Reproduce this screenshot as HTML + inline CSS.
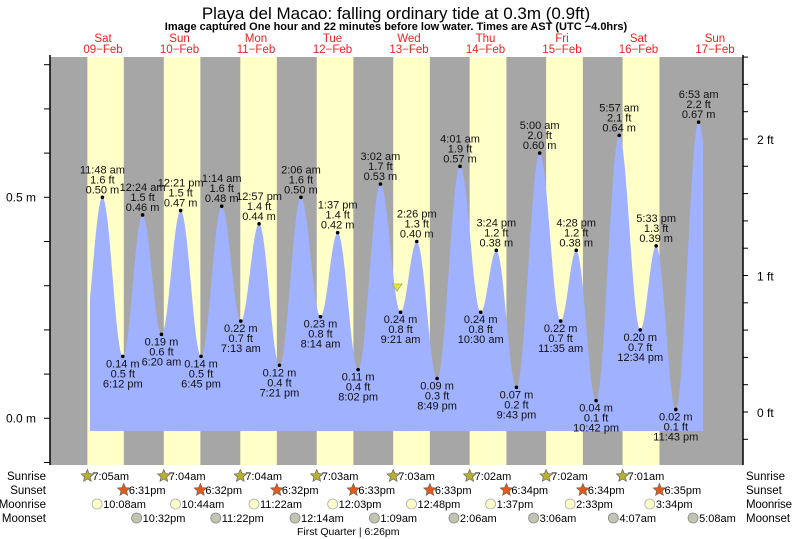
<!DOCTYPE html>
<html><head><meta charset="utf-8"><style>
html,body{margin:0;padding:0;background:#fff;}
svg{display:block;font-family:"Liberation Sans",Arial,sans-serif;}
</style></head><body>
<svg id="s" width="793" height="539" viewBox="0 0 793 539" xmlns="http://www.w3.org/2000/svg">
<text x="396" y="19" font-size="17" text-anchor="middle" fill="#000">Playa del Macao: falling  ordinary tide at 0.3m (0.9ft)</text>
<text x="396" y="30" font-size="11" font-weight="bold" text-anchor="middle" fill="#000">Image captured One hour and 22 minutes before low water. Times are AST (UTC −4.0hrs)</text>
<g id="g"></g>
</svg>
<script>
const NS="http://www.w3.org/2000/svg",g=document.getElementById('g');
function el(t,a,txt){const e=document.createElementNS(NS,t);for(const k in a)e.setAttribute(k,a[k]);if(txt!==undefined)e.textContent=txt;g.appendChild(e);return e;}
const X0=64.8,K=3.187,L=50,R=743,T=57,B=465;
const Y=m=>418.3-m*442;
function tx(d,h,mi,pm){let hh=h%12+(pm?12:0);return X0+(d*24+hh+mi/60)*K;}
el('rect',{x:L,y:T,width:R-L,height:B-T,fill:'#a6a6a6'});
const sr=[[7,5],[7,4],[7,4],[7,3],[7,3],[7,2],[7,2],[7,1]],ss=[[6,31],[6,32],[6,32],[6,33],[6,33],[6,34],[6,34],[6,35]];
for(let d=0;d<8;d++){const a=tx(d,sr[d][0],sr[d][1],false),b=tx(d,ss[d][0],ss[d][1],true);el('rect',{x:a,y:T,width:b-a,height:B-T,fill:'#ffffc8'});}
const ex=[[0,5,36,0,0.17],[0,11,48,0,0.50,'H'],[0,6,12,1,0.14,'L'],
[1,12,24,0,0.46,'H'],[1,6,20,0,0.19,'L'],[1,12,21,1,0.47,'H'],[1,6,45,1,0.14,'L'],
[2,1,14,0,0.48,'H'],[2,7,13,0,0.22,'L'],[2,12,57,1,0.44,'H'],[2,7,21,1,0.12,'L'],
[3,2,6,0,0.50,'H'],[3,8,14,0,0.23,'L'],[3,1,37,1,0.42,'H'],[3,8,2,1,0.11,'L'],
[4,3,2,0,0.53,'H'],[4,9,21,0,0.24,'L'],[4,2,26,1,0.40,'H'],[4,8,49,1,0.09,'L'],
[5,4,1,0,0.57,'H'],[5,10,30,0,0.24,'L'],[5,3,24,1,0.38,'H'],[5,9,43,1,0.07,'L'],
[6,5,0,0,0.60,'H'],[6,11,35,0,0.22,'L'],[6,4,28,1,0.38,'H'],[6,10,42,1,0.04,'L'],
[7,5,57,0,0.64,'H'],[7,12,34,1,0.20,'L'],[7,5,33,1,0.39,'H'],[7,11,43,1,0.02,'L'],
[8,6,53,0,0.67,'H'],[8,1,0,1,0.30]];
const pts=ex.map(e=>({x:tx(e[0],e[1],e[2],!!e[3]),m:e[4],e}));
const xs=90,xe=703;let d=`M${xs},431`;
for(let x=xs;x<=xe;x+=1){let i=0;while(i<pts.length-2&&pts[i+1].x<x)i++;const p=pts[i],q=pts[i+1];let f=(x-p.x)/(q.x-p.x);f=Math.max(0,Math.min(1,f));const m=p.m+(q.m-p.m)*(1-Math.cos(Math.PI*f))/2;d+=`L${x},${Y(m).toFixed(1)}`;}
d+=`L${xe},431Z`;el('path',{d,fill:'#9fb1ff'});
const fmt=(e)=>`${e[1]}:${String(e[2]).padStart(2,'0')} ${e[3]?'pm':'am'}`;
pts.forEach(p=>{const e=p.e;if(!e[5])return;const y=Y(p.m);el('circle',{cx:p.x,cy:y,r:1.8,fill:'#000'});
const ft=(p.m*3.2808).toFixed(1)+' ft',mm=p.m.toFixed(2)+' m',t=fmt(e);const A={'font-size':11,'text-anchor':'middle',fill:'#111'};
if(e[5]=='H'){el('text',Object.assign({x:p.x,y:y-4},A),mm);el('text',Object.assign({x:p.x,y:y-14},A),ft);el('text',Object.assign({x:p.x,y:y-24},A),t);}
else{el('text',Object.assign({x:p.x,y:y+11},A),mm);el('text',Object.assign({x:p.x,y:y+21},A),ft);el('text',Object.assign({x:p.x,y:y+31},A),t);}});
el('path',{d:'M392,284 L402,284 L397,291 Z',fill:'#e8e820',stroke:'#888','stroke-width':0.6});
el('line',{x1:L,y1:T-2,x2:L,y2:B,stroke:'#000','stroke-width':1.5});
el('line',{x1:R,y1:T-2,x2:R,y2:B,stroke:'#000','stroke-width':1.5});
for(let v=-0.1;v<=0.82;v+=0.1){const y=Y(v);if(y<T-1||y>B)continue;el('line',{x1:L-6,y1:y,x2:L,y2:y,stroke:'#000'});}
el('text',{x:36,y:Y(0.5)+4,'font-size':12,'text-anchor':'end'},'0.5 m');
el('text',{x:36,y:Y(0)+4,'font-size':12,'text-anchor':'end'},'0.0 m');
const FY=f=>412-f*136.5;
for(let f=-0.4;f<=2.8;f+=0.2){const y=FY(f);if(y<T-1||y>B)continue;el('line',{x1:R,y1:y,x2:R+5,y2:y,stroke:'#000'});}
el('text',{x:757,y:FY(2)+5,'font-size':12},'2 ft');
el('text',{x:757,y:FY(1)+5,'font-size':12},'1 ft');
el('text',{x:757,y:FY(0)+5,'font-size':12},'0 ft');
const dn=['Sat','Sun','Mon','Tue','Wed','Thu','Fri','Sat','Sun'];
for(let i=0;i<9;i++){const x=X0+(i*24+12)*K;el('text',{x,y:42,'font-size':11.5,'text-anchor':'middle',fill:'#f02020'},dn[i]);el('text',{x,y:53,'font-size':11.5,'text-anchor':'middle',fill:'#f02020'},String(9+i).padStart(2,'0')+'−Feb');}
const rows=[['Sunrise',480],['Sunset',494],['Moonrise',508],['Moonset',522]];
rows.forEach(r=>{el('text',{x:46,y:r[1],'font-size':11.5,'text-anchor':'end'},r[0]);el('text',{x:746,y:r[1],'font-size':11.5,textLength:r[0]=='Moonrise'?46:undefined},r[0]);});
function star(cx,cy,fill){let p='';for(let i=0;i<10;i++){const a=-Math.PI/2+i*Math.PI/5,rr=i%2?3:6.5;p+=(i?'L':'M')+(cx+rr*Math.cos(a)).toFixed(1)+','+(cy+rr*Math.sin(a)).toFixed(1);}el('path',{d:p+'Z',fill,stroke:'#665','stroke-width':0.7});}
for(let i=0;i<8;i++){let x=tx(i,sr[i][0],sr[i][1],false);star(x,476,'#b8b030');el('text',{x:x+5,y:480,'font-size':11},`${sr[i][0]}:${String(sr[i][1]).padStart(2,'0')}am`);
x=tx(i,ss[i][0],ss[i][1],true);star(x,490,'#e05a20');el('text',{x:x+5,y:494,'font-size':11},`${ss[i][0]}:${String(ss[i][1]).padStart(2,'0')}pm`);}
const mr=[[0,10,8,0],[1,10,44,0],[2,11,22,0],[3,12,3,1],[4,12,48,1],[5,1,37,1],[6,2,33,1],[7,3,34,1]];
mr.forEach(m=>{const x=tx(m[0],m[1],m[2],!!m[3]);el('circle',{cx:x,cy:504,r:5,fill:'#ffffc8',stroke:'#aaa','stroke-width':0.8});el('text',{x:x+6,y:508,'font-size':11},`${m[1]}:${String(m[2]).padStart(2,'0')}${m[3]?'pm':'am'}`);});
const ms=[[0,10,32,1],[1,11,22,1],[3,12,14,0],[4,1,9,0],[5,2,6,0],[6,3,6,0],[7,4,7,0],[8,5,8,0]];
ms.forEach(m=>{const x=tx(m[0],m[1],m[2],!!m[3]);el('circle',{cx:x,cy:518,r:5,fill:'#c4c4b4',stroke:'#888','stroke-width':0.8});el('text',{x:x+6,y:522,'font-size':11},`${m[1]}:${String(m[2]).padStart(2,'0')}${m[3]?'pm':'am'}`);});
el('text',{x:297,y:535,'font-size':10.5},'First Quarter | 6:26pm');
</script>
</body></html>
